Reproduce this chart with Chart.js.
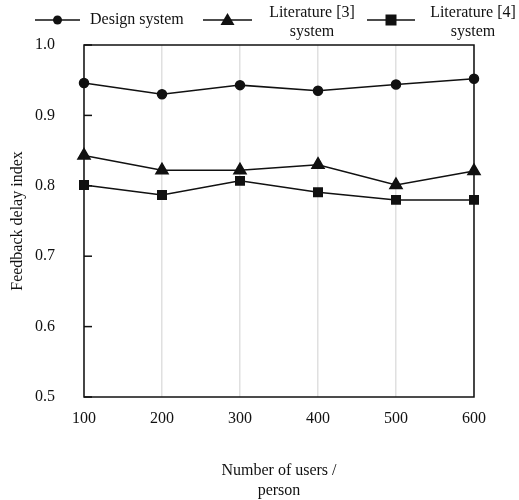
<!DOCTYPE html>
<html>
<head>
<meta charset="utf-8">
<script src="https://cdn.jsdelivr.net/npm/chart.js@4"></script>
<style>
  body { margin: 0; background: #fff; }
  #wrap { width: 519px; height: 500px; position: relative; }
</style>
</head>
<body>
<div id="wrap"><canvas id="feedbackChart"></canvas></div>
<script>
const users = ['100', '200', '300', '400', '500', '600'];
const designSystem = [0.946, 0.930, 0.943, 0.935, 0.944, 0.952];
const literature3 = [0.843, 0.822, 0.822, 0.830, 0.801, 0.821];
const literature4 = [0.801, 0.787, 0.807, 0.791, 0.780, 0.780];
const yTicks = [0.5, 0.6, 0.7, 0.8, 0.9, 1.0];

const serif = '"Liberation Serif", "Times New Roman", serif';
const ink = '#111';

// frame round the plot area
const framePlugin = {
    id: 'frame',
    afterDraw(chart) {
        const { ctx, chartArea: a } = chart;
        ctx.save();
        ctx.strokeStyle = ink;
        ctx.lineWidth = 1.5;
        ctx.strokeRect(a.left, a.top, a.right - a.left, a.bottom - a.top);
        // small inward ticks on the left axis
        const y = chart.scales.y;
        yTicks.forEach(v => {
            const py = y.getPixelForValue(v);
            ctx.beginPath();
            ctx.moveTo(a.left, py);
            ctx.lineTo(a.left + 8, py);
            ctx.stroke();
        });
        ctx.restore();
    }
};

function drawMarker(ctx, style, x, y) {
    ctx.beginPath();
    if (style === 'circle') {
        ctx.arc(x, y, 4.5, 0, Math.PI * 2);
    } else if (style === 'triangle') {
        ctx.moveTo(x, y - 7);
        ctx.lineTo(x + 7, y + 5);
        ctx.lineTo(x - 7, y + 5);
        ctx.closePath();
    } else {
        ctx.rect(x - 5.5, y - 5.5, 11, 11);
    }
    ctx.fill();
}

// legend with two-line labels at the top
const legendPlugin = {
    id: 'topLegend',
    afterDraw(chart) {
        const { ctx } = chart;
        const items = [
            { lineFrom: 35, lineTo: 80, text: ['Design system'], textX: 90, align: 'left' },
            { lineFrom: 203, lineTo: 252, text: ['Literature [3]', 'system'], textX: 312, align: 'center' },
            { lineFrom: 367, lineTo: 415, text: ['Literature [4]', 'system'], textX: 473, align: 'center' }
        ];
        ctx.save();
        ctx.font = '16px ' + serif;
        ctx.fillStyle = ink;
        ctx.strokeStyle = ink;
        ctx.lineWidth = 1.5;
        chart.data.datasets.forEach((ds, i) => {
            const it = items[i];
            const ly = 20;
            ctx.beginPath();
            ctx.moveTo(it.lineFrom, ly);
            ctx.lineTo(it.lineTo, ly);
            ctx.stroke();
            drawMarker(ctx, ds.pointStyle, (it.lineFrom + it.lineTo) / 2, ly);
            ctx.textAlign = it.align;
            ctx.textBaseline = 'middle';
            if (it.text.length === 1) {
                ctx.fillText(it.text[0], it.textX, ly);
            } else {
                ctx.fillText(it.text[0], it.textX, 13);
                ctx.fillText(it.text[1], it.textX, 32);
            }
        });
        ctx.restore();
    }
};

function series(label, data, style, radius) {
    return {
        label: label,
        data: data,
        borderColor: ink,
        backgroundColor: ink,
        borderWidth: 1.5,
        pointStyle: style,
        pointRadius: radius,
        pointHoverRadius: radius,
        pointBackgroundColor: ink,
        pointBorderColor: ink,
        tension: 0
    };
}

const chart = new Chart(document.getElementById('feedbackChart'), {
    type: 'line',
    data: {
        labels: users,
        datasets: [
            series('Design system', designSystem, 'circle', 4.5),
            series('Literature [3] system', literature3, 'triangle', 7),
            series('Literature [4] system', literature4, 'rect', 6)
        ]
    },
    options: {
        responsive: true,
        maintainAspectRatio: false,
        animation: false,
        layout: { padding: { top: 45, right: 45, left: 0, bottom: 0 } },
        plugins: {
            legend: { display: false },
            tooltip: { enabled: false }
        },
        scales: {
            x: {
                type: 'category',
                offset: false,
                grid: { display: true, color: '#e0e0e0', lineWidth: 1.5, drawTicks: false },
                border: { display: false },
                ticks: { color: ink, font: { family: serif, size: 16 }, padding: 12, maxRotation: 0 },
                title: {
                    display: true,
                    text: ['Number of users /', 'person'],
                    color: ink,
                    font: { family: serif, size: 16 },
                    padding: { top: 28, bottom: 0 }
                },
                afterFit(scale) { scale.height = 103; }
            },
            y: {
                min: 0.5,
                max: 1.0,
                afterBuildTicks(scale) { scale.ticks = yTicks.map(v => ({ value: v })); },
                grid: { display: false, drawTicks: false },
                border: { display: false },
                ticks: {
                    color: ink,
                    font: { family: serif, size: 16 },
                    padding: 29,
                    callback: v => v.toFixed(1)
                },
                title: {
                    display: true,
                    text: 'Feedback delay index',
                    color: ink,
                    font: { family: serif, size: 16 },
                    padding: { top: 8, bottom: 0 }
                },
                afterFit(scale) { scale.width = 84; }
            }
        }
    },
    plugins: [framePlugin, legendPlugin]
});
</script>
</body>
</html>
